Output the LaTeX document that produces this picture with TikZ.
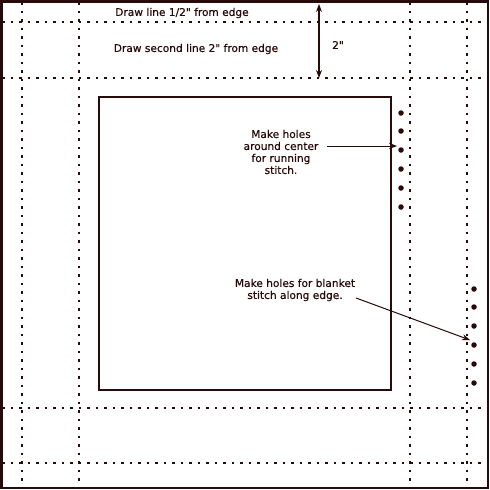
\documentclass[tikz,border=0pt]{standalone}
\usepackage{fontspec}
\setmainfont{DejaVu Sans}
\newfontfamily\lblfont{DejaVu Sans}[FakeBold=0.5]
\usetikzlibrary{arrows.meta}
\definecolor{ink}{RGB}{40,10,10}
\begin{document}
\begin{tikzpicture}[x=1pt,y=-1pt,
  guide/.style={draw=ink,line width=2pt,dash pattern=on 2.5pt off 6pt},
  frame/.style={draw=ink,line width=2.6pt},
  hole/.style={circle,fill=ink,inner sep=0pt,minimum size=5.5pt},
  lbl/.style={text=ink,font=\lblfont\fontsize{10.6}{12}\selectfont,align=center,inner sep=1pt},
  pointer/.style={draw=ink,line width=1pt,-{Stealth[length=8pt,width=6pt]}}]
\useasboundingbox (0,0) rectangle (490,490);
\fill[white] (0,0) rectangle (490,490);
% guide lines
\foreach \x in {22,79,410,467} \draw[guide] (\x,2) -- (\x,488);
\foreach \y in {22,78,408,463} \draw[guide] (2,\y) -- (488,\y);
% outer frame
\draw[frame] (1.5,1.5) rectangle (488,488);
% inner square
\draw[frame] (99,97) rectangle (391,390);
% dimension arrow
\coordinate (dtop) at (319,4);
\coordinate (dbot) at (319,78);
\draw[ink,line width=1.2pt,{Stealth[length=8pt,width=6pt]}-{Stealth[length=8pt,width=6pt]}] (dtop) -- (dbot);
\node[lbl] (two) at (338,45) {2"};
\node[lbl] (t1) at (182,13) {Draw line 1/2" from edge};
\node[lbl] (t2) at (196,49) {Draw second line 2" from edge};
% running stitch holes
\foreach \i/\y in {1/113,2/131,3/150,4/169,5/188,6/207} \node[hole] (r\i) at (401,\y) {};
% blanket stitch holes
\foreach \i/\y in {1/289,2/307,3/326,4/345,5/364,6/383} \node[hole] (b\i) at (474,\y) {};
% labels
\node[lbl] (runlbl) at (281,152) {Make holes\\around center\\for running\\stitch.};
\coordinate (runtip) at (397,146);
\draw[pointer] (327,146) -- (runtip);
\node[lbl] (blklbl) at (295,290) {Make holes for blanket\\stitch along edge.};
\coordinate (blkstart) at (356,298);
\coordinate (blktip) at (470,340);
\draw[pointer] (blkstart) -- (blktip);
\end{tikzpicture}
\end{document}
